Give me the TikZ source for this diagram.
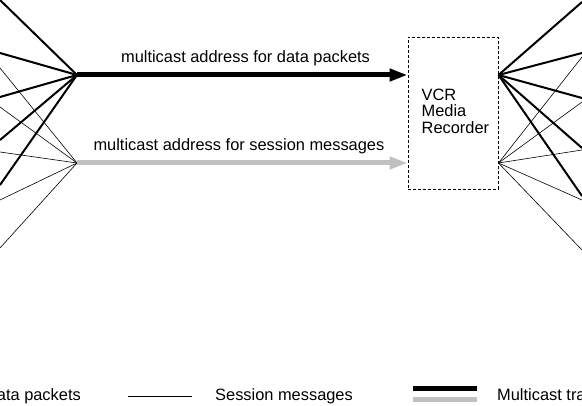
\documentclass[tikz,border=0pt]{standalone}
\usepackage{fontspec}
\setmainfont{Liberation Sans}
\usetikzlibrary{arrows.meta}

\definecolor{sessgray}{RGB}{192,192,192}
\tikzset{
	datalink/.style={line width=2pt},
	sesslink/.style={line width=0.6pt},
	mcast/.style={line width=5pt,-{Triangle[length=18pt,width=12pt]}},
	recbox/.style={draw,dashed,dash pattern=on 3pt off 2pt,line width=1pt,minimum width=90pt,minimum height=152pt,inner sep=0pt}
}

\begin{document}
\begin{tikzpicture}[x=1pt,y=-1pt,font=\fontsize{16.4}{16.3}\selectfont]
	\useasboundingbox (0,0) rectangle (582,406);
	\clip (0,0) rectangle (582,406);
	\coordinate (DL) at (77,75);
	\coordinate (SL) at (77,163);
	\node[recbox] (rec) at (453,113.5) {};
	\coordinate (DR) at (rec.east |- DL);
	\coordinate (SR) at (rec.east |- SL);
	\node[anchor=north west,align=left,inner sep=0pt] (rectxt) at (421.5,89) {VCR\\Media\\Recorder};

	% senders on the left
	\foreach \y in {0,53,97,140,185}{
		\coordinate (dl\y) at (0,\y);
		\draw[datalink] (DL) -- (dl\y);
	}
	\foreach \y in {68,107,152,200,248}{
		\coordinate (sl\y) at (0,\y);
		\draw[sesslink] (SL) -- (sl\y);
	}
	% receivers on the right
	\foreach \y in {2,53,98,148,196}{
		\coordinate (dr\y) at (582,\y);
		\draw[datalink] (DR) -- (dr\y);
	}
	\foreach \y in {57,102,150,200,250}{
		\coordinate (sr\y) at (582,\y);
		\draw[sesslink] (SR) -- (sr\y);
	}

	\draw[mcast,black] (DL) -- (DL -| rec.west) node[pos=0.51,anchor=base,yshift=12pt,inner sep=0pt] (dlab) {multicast address for data packets};
	\draw[mcast,sessgray] (SL) -- (SL -| rec.west) node[pos=0.49,anchor=base,yshift=12.3pt,inner sep=0pt,text=black] (slab) {multicast address for session messages};

	% legend
	\node[anchor=base east,inner sep=0pt] (legd) at (81,401) {Data packets};
	\draw[sesslink] (128,396) -- (192,396);
	\node[anchor=base west,inner sep=0pt] (legs) at (215,401) {Session messages};
	\draw[line width=5pt] (413,388.5) -- (477,388.5);
	\draw[line width=5pt,sessgray] (413,399.5) -- (477,399.5);
	\node[anchor=base west,inner sep=0pt] (legm) at (497,401) {Multicast traffic};
\end{tikzpicture}
\end{document}
